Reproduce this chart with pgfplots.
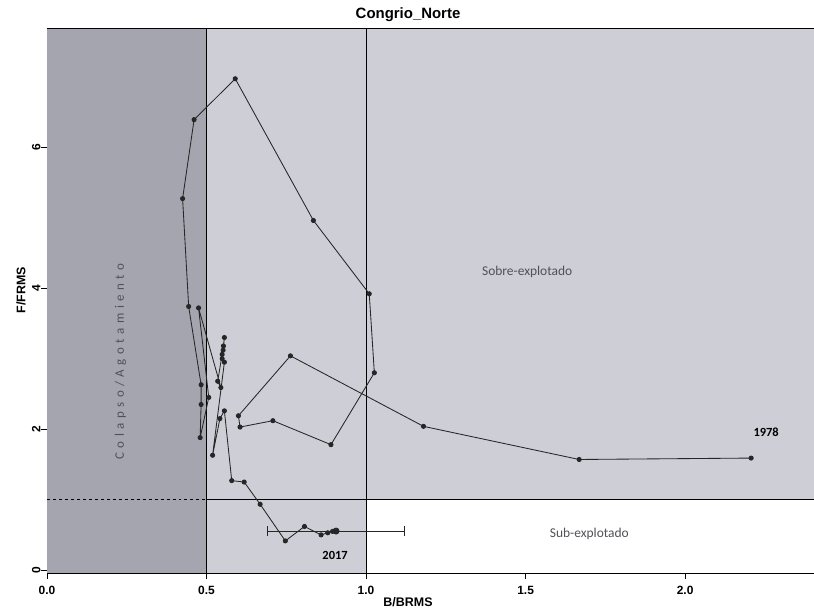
\documentclass[border=0pt]{standalone}
\usepackage{pgfplots}
\pgfplotsset{compat=1.18}
\usepackage{fontspec}
\setmainfont{Liberation Sans}
\newfontfamily\calfont{Carlito}
\newfontfamily\calspaced[LetterSpace=35]{Carlito}
\definecolor{darkreg}{RGB}{165,165,176}
\definecolor{lightreg}{RGB}{206,206,215}
\definecolor{txtgray}{RGB}{80,80,86}
\begin{document}
\begin{tikzpicture}[x=1bp,y=1bp]
\useasboundingbox (-47,-39) rectangle (767,573);
\begin{axis}[
  at={(0,0)}, anchor=south west,
  width=767bp, height=545bp, scale only axis,
  xmin=0, xmax=2.404, ymin=-0.04, ymax=7.69,
  axis x line*=bottom, axis y line*=left,
  axis line style={black, line width=0.8bp},
  xtick={0,0.5,1,1.5,2}, xticklabels={0.0,0.5,1.0,1.5,2.0},
  ytick={0,2,4,6},
  tick align=outside, major tick length=6bp,
  tick style={black, line width=0.6bp},
  /pgf/number format/assume math mode=true,
  xticklabel style={font=\fontsize{12}{14}\selectfont\bfseries, yshift=-4bp},
  yticklabel style={font=\fontsize{12}{14}\selectfont\bfseries, rotate=90, anchor=south},
  yticklabel shift=-3bp,
  title={Congrio\_Norte},
  title style={font=\fontsize{15}{18}\selectfont\bfseries, at={(axis description cs:0.4707,1.013)}, anchor=center},
  xlabel={B/BRMS},
  xlabel style={font=\fontsize{12.5}{15}\selectfont\bfseries, at={(axis description cs:0.4707,-0.0532)}, anchor=center},
  ylabel={F/FRMS},
  ylabel style={font=\fontsize{12.5}{15}\selectfont\bfseries, at={(axis description cs:-0.0339,0.519)}, anchor=center},
  clip=false,
]
% background zones
\fill[darkreg] (axis cs:0,-0.04) rectangle (axis cs:0.5,7.69);
\fill[lightreg] (axis cs:0.5,-0.04) rectangle (axis cs:1,7.69);
\fill[lightreg] (axis cs:1,1) rectangle (axis cs:2.404,7.69);
\draw[black, line width=0.8bp] (rel axis cs:0,1) -- (rel axis cs:1,1);
% reference lines
\addplot[black, line width=0.8bp, forget plot] coordinates {(0.5,-0.04) (0.5,7.69)};
\addplot[black, line width=0.8bp, forget plot] coordinates {(1,-0.04) (1,7.69)};
\addplot[black, line width=0.8bp, forget plot] coordinates {(0.5,1) (2.404,1)};
\addplot[black, line width=0.8bp, dashed, forget plot] coordinates {(0,1) (0.5,1)};
% trajectory 1978-2017
\addplot[black!85, line width=0.85bp, mark=*, mark size=2.1bp] coordinates {
(2.207,1.59) (1.668,1.57) (1.18,2.04) (0.763,3.04) (0.60,2.19) (0.605,2.03)
(0.708,2.12) (0.89,1.78) (1.026,2.80) (1.01,3.92) (0.835,4.96) (0.59,6.97)
(0.461,6.39) (0.425,5.27) (0.444,3.74) (0.483,2.63) (0.483,2.35) (0.48,1.88)
(0.507,2.45) (0.475,3.72) (0.545,2.59) (0.535,2.68) (0.549,3.06) (0.552,3.12)
(0.556,3.30) (0.553,3.18) (0.549,3.00) (0.556,2.95) (0.519,1.63) (0.542,2.15)
(0.556,2.26) (0.579,1.27) (0.618,1.25) (0.668,0.935) (0.747,0.415) (0.807,0.62)
(0.859,0.50) (0.88,0.53) (0.895,0.55) (0.906,0.555)
};
% 2017 with interval
\addplot[black!85, line width=0.9bp, mark=*, mark size=3bp,
  error bars/.cd, x dir=both, x explicit,
  error mark=|,
  error mark options={mark size=5bp, line width=0.9bp, black!85}]
  coordinates {(0.906,0.555) +- (0.214,0)};
% labels
\node[rotate=90, text=txtgray, font=\calspaced\fontsize{13}{15}\selectfont] at (axis cs:0.23,2.96) {Colapso/Agotamiento};
\node[text=txtgray, font=\calfont\fontsize{13.5}{16}\selectfont] at (axis cs:1.505,4.235) {Sobre-explotado};
\node[text=txtgray, font=\calfont\fontsize{13.5}{16}\selectfont] at (axis cs:1.70,0.51) {Sub-explotado};
\node[font=\calfont\fontsize{12.5}{15}\selectfont\bfseries] at (axis cs:2.254,1.955) {1978};
\node[font=\calfont\fontsize{12.5}{15}\selectfont\bfseries] at (axis cs:0.903,0.21) {2017};
\end{axis}
\end{tikzpicture}
\end{document}
